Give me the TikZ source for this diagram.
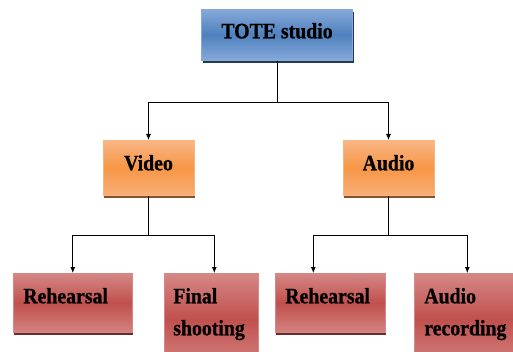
\documentclass[tikz,border=0pt]{standalone}
\usepackage{fontspec}
\setmainfont{Liberation Serif}[FakeStretch=0.9,BoldFeatures={FakeBold=0.8}]
\usetikzlibrary{shadows,arrows.meta}
\definecolor{bluetop}{HTML}{86A9DA}
\definecolor{bluemid}{HTML}{4F81BD}
\definecolor{bluebot}{HTML}{86AADB}
\definecolor{orangetop}{HTML}{F9B685}
\definecolor{orangemid}{HTML}{F79646}
\definecolor{orangebot}{HTML}{F9AE78}
\definecolor{redtop}{HTML}{D58886}
\definecolor{redmid}{HTML}{C0504D}
\definecolor{redbot}{HTML}{D38280}

\begin{document}
\begin{tikzpicture}[x=1pt,y=1pt,
    box/.style ={inner xsep=0pt, inner ysep=0pt, line width=0.6pt,
      font=\fontsize{22}{32}\selectfont\bfseries},
    studio/.style ={box, draw=bluetop, top color=bluetop, bottom color=bluebot,
      middle color=bluemid, minimum width=151, text height=29, text depth=22,
      drop shadow={shadow xshift=1pt, shadow yshift=-2.5pt, fill=bluemid!45!black, opacity=1}},
    medium/.style ={box, draw=orangetop, top color=orangetop, bottom color=orangebot,
      middle color=orangemid, minimum width=91, text height=30, text depth=25,
      drop shadow={shadow xshift=1pt, shadow yshift=-2.5pt, fill=orangemid!55!black, opacity=1}},
    task/.style ={box, draw=redtop, top color=redtop, bottom color=redbot,
      middle color=redmid, inner xsep=10pt, align=left, text height=30, text depth=29,
      drop shadow={shadow xshift=1pt, shadow yshift=-2.5pt, fill=redmid!55!black, opacity=1}},
    line/.style ={line width=0.8pt},
    arrow/.style ={line width=0.8pt, -{Latex[length=6pt,width=5pt]}}]
   \useasboundingbox (0,0) rectangle (513,351);
   \clip (0,0) rectangle (513,351);
   \node[studio] (T) [anchor=north] at (277,342) {TOTE studio};
   \node[medium] (V) [anchor=north] at (148.5,211) {Video};
   \node[medium] (A) [anchor=north] at (388.5,211) {Audio};
   \node[task, text width=99] (R1) [anchor=north west] at (13,78) {Rehearsal};
   \node[task, text width=76, inner xsep=9pt, text depth=62] (S) [anchor=north west] at (164,78) {Final\\shooting};
   \node[task, text width=90] (R2) [anchor=north west] at (275,78) {Rehearsal};
   \node[task, text width=86, text depth=62] (AR) [anchor=north west] at (414,78) {Audio\\recording};
   \coordinate (TF) at (277,249);
   \coordinate (VF) at (148.5,116);
   \coordinate (AF) at (388.5,116);
   \draw[line] (T) -- (TF);
      \draw[arrow] (TF) -| (V);
   \draw[arrow] (TF) -| (A);
   \draw[line] (V) -- (VF);
   \draw[arrow] (VF) -| (R1);
   \draw[arrow] (VF) -| ([xshift=3pt]S.north);
   \draw[line] (A) -- (AF);
   \draw[arrow] (AF) -| ([xshift=-17pt]R2.north);
   \draw[arrow] (AF) -| (AR);
 \end{tikzpicture}
\end{document}
